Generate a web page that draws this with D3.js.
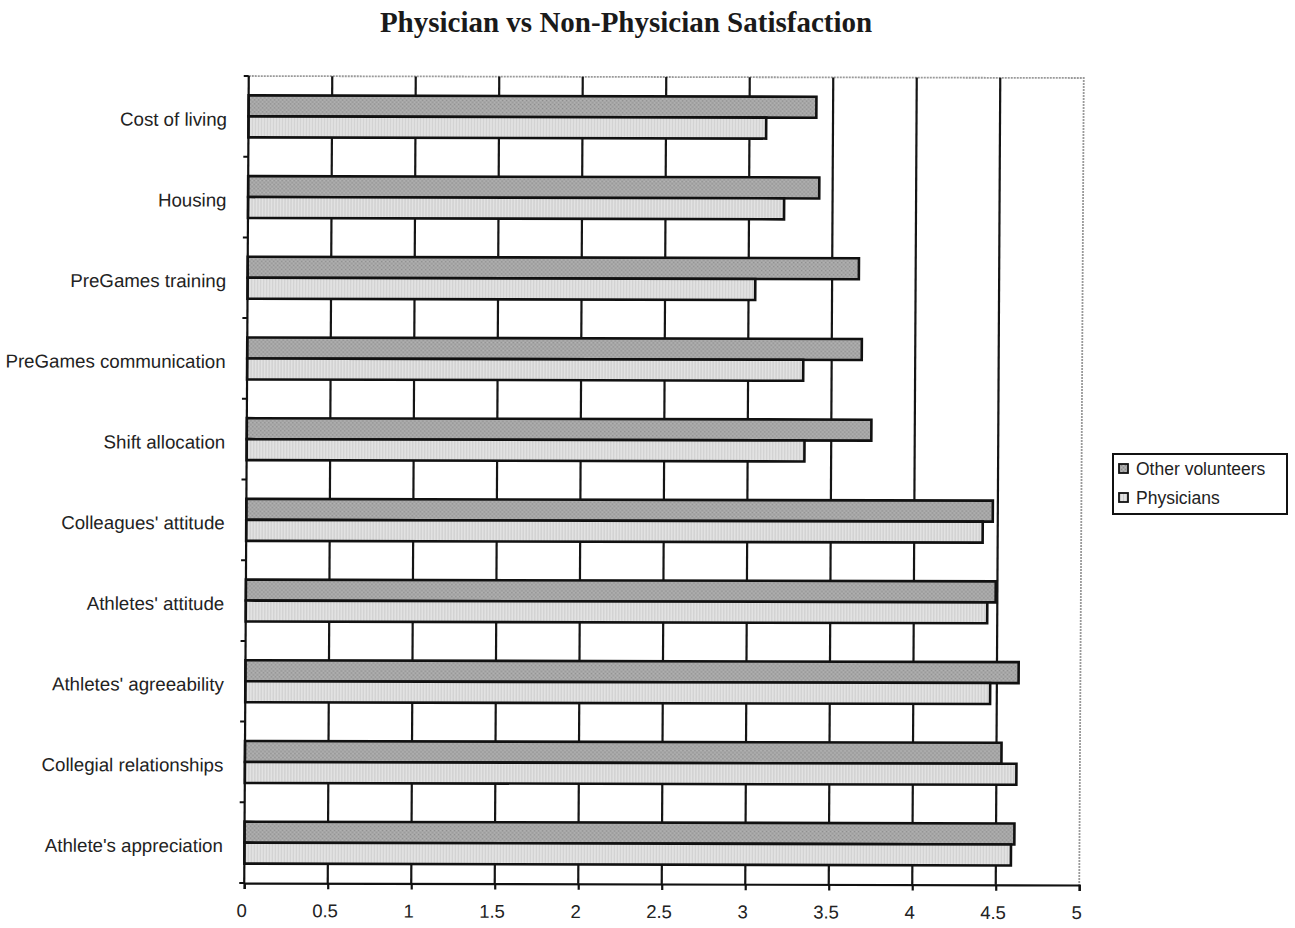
<!DOCTYPE html>
<html>
<head>
<meta charset="utf-8">
<script src="https://cdn.jsdelivr.net/npm/d3@7/dist/d3.min.js"></script>
<style>
  html, body { margin: 0; padding: 0; background: #fff; }
  svg { display: block; }
</style>
</head>
<body>
<div id="chart"></div>
<script>
// Satisfaction scores (1-5 scale), listed top to bottom as shown on the chart
const categories = [
  "Cost of living",
  "Housing",
  "PreGames training",
  "PreGames communication",
  "Shift allocation",
  "Colleagues' attitude",
  "Athletes' attitude",
  "Athletes' agreeability",
  "Collegial relationships",
  "Athlete's appreciation"
];
const seriesNames = ["Other volunteers", "Physicians"];
const otherVolunteers = [3.40, 3.42, 3.66, 3.68, 3.74, 4.47, 4.49, 4.63, 4.53, 4.61];
const physicians      = [3.10, 3.21, 3.04, 3.33, 3.34, 4.41, 4.44, 4.46, 4.62, 4.59];
const xTicks = [0, 0.5, 1, 1.5, 2, 2.5, 3, 3.5, 4, 4.5, 5];

const W = 1295, H = 928;
const margin = { top: 77, left: 246.5, right: 1081.5, bottom: 884 };

const svg = d3.select("#chart").append("svg")
  .attr("width", W).attr("height", H)
  .style("background", "#fff");

// fill textures for the two series
const defs = svg.append("defs");
const pDark = defs.append("pattern").attr("id", "fillDark")
  .attr("patternUnits", "userSpaceOnUse").attr("width", 4).attr("height", 4);
pDark.append("rect").attr("width", 4).attr("height", 4).attr("fill", "#a6a6a6");
pDark.append("rect").attr("x", 0).attr("y", 0).attr("width", 1).attr("height", 1).attr("fill", "#8c8c8c");
pDark.append("rect").attr("x", 2).attr("y", 2).attr("width", 1).attr("height", 1).attr("fill", "#8f8f8f");
pDark.append("rect").attr("x", 2).attr("y", 0).attr("width", 1).attr("height", 1).attr("fill", "#bababa");
pDark.append("rect").attr("x", 0).attr("y", 2).attr("width", 1).attr("height", 1).attr("fill", "#b6b6b6");

const pLight = defs.append("pattern").attr("id", "fillLight")
  .attr("patternUnits", "userSpaceOnUse").attr("width", 3).attr("height", 3);
pLight.append("rect").attr("width", 3).attr("height", 3).attr("fill", "#e2e2e2");
pLight.append("rect").attr("x", 1).attr("width", 1).attr("height", 3).attr("fill", "#cccccc");

const fills = { "Other volunteers": "url(#fillDark)", "Physicians": "url(#fillLight)" };

// title
svg.append("text")
  .attr("x", 626).attr("y", 32)
  .attr("text-anchor", "middle")
  .style("font-family", "'Liberation Serif', 'Times New Roman', serif")
  .style("font-weight", "bold")
  .style("font-size", "29px")
  .style("fill", "#1a1a1a")
  .text("Physician vs Non-Physician Satisfaction");

// the plot frame sits slightly askew on the page
const a = -0.0056, b = 0.0024, cx = 660, cy = 480;
const g = svg.append("g")
  .attr("transform", `matrix(1, ${b}, ${a}, 1, ${-a * cy}, ${-b * cx})`);

const x = d3.scaleLinear().domain([0, 5]).range([margin.left, margin.right]);
const y0 = d3.scaleBand().domain(categories)
  .range([margin.top, margin.bottom])
  .paddingInner(0.48).paddingOuter(0.24);
const y1 = d3.scaleBand().domain(seriesNames).range([0, y0.bandwidth()]);

// plot area outline (top and right)
g.append("path")
  .attr("d", `M${x(0)},${margin.top}H${x(5)}V${margin.bottom}`)
  .attr("fill", "none")
  .attr("stroke", "#9a9a9a")
  .attr("stroke-width", 1.8)
  .attr("stroke-dasharray", "2,1");

// vertical gridlines
g.append("g").selectAll("line")
  .data(xTicks.filter(t => t > 0 && t < 5))
  .join("line")
  .attr("x1", d => x(d)).attr("x2", d => x(d))
  .attr("y1", margin.top).attr("y2", margin.bottom)
  .attr("stroke", "#151515").attr("stroke-width", 2.2);

// bars
const rows = categories.map((c, i) => ({
  category: c,
  values: [
    { series: "Other volunteers", value: otherVolunteers[i] },
    { series: "Physicians", value: physicians[i] }
  ]
}));

g.append("g").selectAll("g")
  .data(rows)
  .join("g")
  .attr("transform", d => `translate(0,${y0(d.category)})`)
  .selectAll("rect")
  .data(d => d.values)
  .join("rect")
  .attr("x", x(0))
  .attr("y", d => y1(d.series))
  .attr("width", d => x(d.value) - x(0))
  .attr("height", y1.bandwidth())
  .attr("fill", d => fills[d.series])
  .attr("stroke", "#111")
  .attr("stroke-width", 2.6);

// x axis
const xAxis = d3.axisBottom(x).tickValues(xTicks).tickSize(6).tickPadding(15)
  .tickFormat(d3.format("~g"));
const xg = g.append("g").attr("transform", `translate(0,${margin.bottom})`).call(xAxis);
xg.select(".domain").attr("stroke", "#111").attr("stroke-width", 2.2);
xg.selectAll(".tick line").attr("stroke", "#111").attr("stroke-width", 2.2);
xg.selectAll(".tick text")
  .attr("dx", -3)
  .style("font-family", "'Liberation Sans', Arial, sans-serif")
  .style("font-size", "18.5px")
  .style("fill", "#222");

// y axis: line with ticks between category bands
const yg = g.append("g");
yg.append("line")
  .attr("x1", x(0)).attr("x2", x(0))
  .attr("y1", margin.top).attr("y2", margin.bottom)
  .attr("stroke", "#111").attr("stroke-width", 2.2);
const step = y0.step();
yg.selectAll("line.tick")
  .data(d3.range(categories.length + 1))
  .join("line").attr("class", "tick")
  .attr("x1", x(0) - 5).attr("x2", x(0))
  .attr("y1", i => margin.top + i * step).attr("y2", i => margin.top + i * step)
  .attr("stroke", "#111").attr("stroke-width", 2);

yg.selectAll("text")
  .data(categories)
  .join("text")
  .attr("x", 225)
  .attr("y", d => y0(d) + y0.bandwidth() / 2 + 3)
  .attr("dy", "0.35em")
  .attr("text-anchor", "end")
  .style("font-family", "'Liberation Sans', Arial, sans-serif")
  .style("font-size", "18.7px")
  .style("fill", "#222")
  .text(d => d);

// legend
const lg = svg.append("g").attr("transform", "translate(1113,454)");
lg.append("rect")
  .attr("width", 174).attr("height", 60)
  .attr("fill", "#fff").attr("stroke", "#111").attr("stroke-width", 2);
const items = lg.selectAll("g.item")
  .data(seriesNames)
  .join("g").attr("class", "item")
  .attr("transform", (d, i) => `translate(0,${15 + i * 29})`);
items.append("rect")
  .attr("x", 6).attr("y", -5).attr("width", 9).attr("height", 9)
  .attr("fill", d => fills[d])
  .attr("stroke", "#111").attr("stroke-width", 1.8);
items.append("text")
  .attr("x", 23).attr("y", 0).attr("dy", "0.35em")
  .style("font-family", "'Liberation Sans', Arial, sans-serif")
  .style("font-size", "17.5px")
  .style("fill", "#222")
  .text(d => d);
</script>
</body>
</html>
